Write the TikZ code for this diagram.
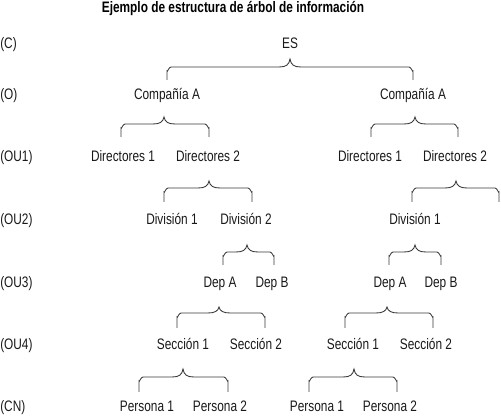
\documentclass[tikz,border=0pt]{standalone}
\usepackage{fontspec}
\setmainfont[FakeStretch=0.78]{Liberation Sans}
\begin{document}
\begin{tikzpicture}[x=0.75pt,y=-0.75pt,
  lbl/.style={anchor=base,inner sep=0pt,font=\fontsize{11.4pt}{13pt}\selectfont,text=black!90},
  rowlbl/.style={anchor=base west,inner sep=0pt,font=\fontsize{11.4pt}{13pt}\selectfont,text=black!90},
  title/.style={anchor=base,inner sep=0pt,font=\fontsize{11.4pt}{13pt}\selectfont\bfseries},
  brace/.style={draw=black!78,line width=0.65pt}]
\useasboundingbox (0,0) rectangle (501,416);
\newcommand\infobrace[6]{%
  \draw[brace] ({#1},{#6}) -- ({#1},{#5+4}) to[out=-90,in=180] ({#1+4},{#5}) -- ({#3-11},{#5})
    .. controls ({#3-4},{#5}) and ({#3-1},{#5-2}) .. ({#3},{#4})
    .. controls ({#3+1},{#5-2}) and ({#3+4},{#5}) .. ({#3+11},{#5})
    -- ({#2-4},{#5}) to[out=0,in=-90] ({#2},{#5+4}) -- ({#2},{#6});}
\node[title] (t) at (233,13) {Ejemplo de estructura de árbol de información};
% row labels
\node[rowlbl] (rc) at (0,49) {(C)};
\node[rowlbl] (ro) at (0,100) {(O)};
\node[rowlbl] (ru1) at (0,162) {(OU1)};
\node[rowlbl] (ru2) at (0,225) {(OU2)};
\node[rowlbl] (ru3) at (0,288) {(OU3)};
\node[rowlbl] (ru4) at (0,350) {(OU4)};
\node[rowlbl] (rcn) at (0,412) {(CN)};
% nodes
\node[lbl] (es) at (290,49) {ES};
\node[lbl] (cal) at (167,100) {Compañía A};
\node[lbl] (car) at (413,100) {Compañía A};
\node[lbl] (d1l) at (123,162) {Directores 1};
\node[lbl] (d2l) at (208,162) {Directores 2};
\node[lbl] (d1r) at (370,162) {Directores 1};
\node[lbl] (d2r) at (455,162) {Directores 2};
\node[lbl] (v1l) at (172,225) {División 1};
\node[lbl] (v2l) at (246,225) {División 2};
\node[lbl] (v1r) at (415,225) {División 1};
\node[lbl] (dal) at (220,288) {Dep A};
\node[lbl] (dbl) at (272,288) {Dep B};
\node[lbl] (dar) at (390,288) {Dep A};
\node[lbl] (dbr) at (441,288) {Dep B};
\node[lbl] (s1l) at (183,350) {Sección 1};
\node[lbl] (s2l) at (256,350) {Sección 2};
\node[lbl] (s1r) at (353,350) {Sección 1};
\node[lbl] (s2r) at (426,350) {Sección 2};
\node[lbl] (p1l) at (147,412) {Persona 1};
\node[lbl] (p2l) at (220,412) {Persona 2};
\node[lbl] (p1r) at (317,412) {Persona 1};
\node[lbl] (p2r) at (390,412) {Persona 2};
% braces
\infobrace{167}{413}{290}{59}{67}{80}
\infobrace{121}{209}{164}{117}{124}{137}
\infobrace{371}{458}{415}{117}{124}{137}
\infobrace{164}{252}{209}{181}{188}{202}
\infobrace{412}{499}{456}{181}{188}{202}
\infobrace{223}{274}{247}{245}{252}{265}
\infobrace{389}{441}{415}{245}{252}{265}
\infobrace{177}{265}{219}{307}{313}{328}
\infobrace{345}{433}{387}{307}{313}{328}
\infobrace{139}{228}{183}{369}{377}{392}
\infobrace{309}{397}{354}{369}{377}{392}
\end{tikzpicture}
\end{document}
